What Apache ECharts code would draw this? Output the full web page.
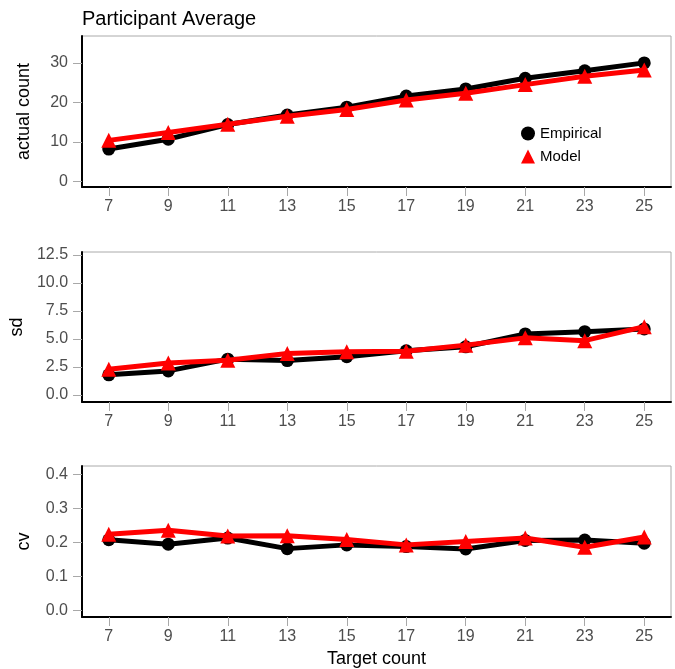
<!DOCTYPE html>
<html>
<head>
<meta charset="utf-8">
<script src="https://cdn.jsdelivr.net/npm/echarts@6/dist/echarts.min.js"></script>
<style>
html,body{margin:0;padding:0;background:#fff;}
#chart{width:675px;height:669px;}
</style>
</head>
<body>
<div id="chart"></div>
<script>
// ---- data ----
const targetCounts = [7, 9, 11, 13, 15, 17, 19, 21, 23, 25];
const xTickLabels = [7, 9, 11, 13, 15, 17, 19, 21, 23, 25];

const countEmpirical = [8.2, 10.7, 14.4, 16.8, 18.8, 21.6, 23.4, 26.1, 28.0, 30.0];
const countModel     = [10.4, 12.4, 14.5, 16.5, 18.2, 20.6, 22.3, 24.5, 26.6, 28.2];

const sdEmpirical = [1.8, 2.15, 3.2, 3.07, 3.42, 3.95, 4.3, 5.45, 5.65, 5.9];
const sdModel     = [2.3, 2.85, 3.1, 3.7, 3.85, 3.9, 4.45, 5.1, 4.85, 6.1];

const cvEmpirical = [0.208, 0.195, 0.213, 0.182, 0.193, 0.188, 0.181, 0.206, 0.207, 0.198];
const cvModel     = [0.224, 0.236, 0.219, 0.220, 0.209, 0.193, 0.203, 0.213, 0.186, 0.216];

const yTicksCount = [0, 10, 20, 30];
const yTicksSd = [0, 2.5, 5, 7.5, 10, 12.5];
const yTicksCv = [0, 0.1, 0.2, 0.3, 0.4];

// ---- helpers ----
const pairs = (ys) => targetCounts.map((x, i) => [x, ys[i]]);
const FONT = '"Liberation Sans", Arial, sans-serif';
const tickColor = '#a8a8a8';
const labelColor = '#4d4d4d';

function xAxis(gridIndex, withName) {
  const ax = {
    type: 'value', gridIndex, min: 6.1, max: 25.9,
    splitLine: {show: false},
    axisLine: {show: true, onZero: false, lineStyle: {color: '#000', width: 2}},
    axisTick: {show: true, length: 9, customValues: xTickLabels, lineStyle: {color: tickColor, width: 1}},
    axisLabel: {customValues: xTickLabels, margin: 12, color: labelColor, fontSize: 16, fontFamily: FONT}
  };
  if (withName) {
    ax.name = 'Target count';
    ax.nameLocation = 'middle';
    ax.nameGap = 33;
    ax.nameTextStyle = {color: '#000', fontSize: 18, fontFamily: FONT};
  }
  return ax;
}
function yAxis(gridIndex, name, min, max, ticks, fmt) {
  return {
    type: 'value', gridIndex, min, max,
    name, nameLocation: 'middle', nameGap: 49,
    nameTextStyle: {color: '#000', fontSize: 18, fontFamily: FONT},
    splitLine: {show: false},
    axisLine: {show: true, onZero: false, lineStyle: {color: '#000', width: 2}},
    axisTick: {show: true, length: 9, customValues: ticks, lineStyle: {color: tickColor, width: 1}},
    axisLabel: {customValues: ticks, margin: 14, color: labelColor, fontSize: 16, fontFamily: FONT,
      formatter: fmt}
  };
}
function series(name, data, idx, isModel) {
  return {
    name, type: 'line', xAxisIndex: idx, yAxisIndex: idx,
    data: pairs(data),
    symbol: isModel ? 'triangle' : 'circle',
    symbolSize: isModel ? 15 : 13,
    showAllSymbol: true,
    lineStyle: {color: isModel ? '#ff0000' : '#000000', width: 5},
    itemStyle: {color: isModel ? '#ff0000' : '#000000'},
    z: isModel ? 3 : 2,
    animation: false,
    emphasis: {disabled: true}
  };
}

const chart = echarts.init(document.getElementById('chart'), null, {renderer: 'canvas'});
const gridBase = {left: 82, right: 4, show: true, borderColor: '#aaaaaa', borderWidth: 1, backgroundColor: '#fff'};
chart.setOption({
  animation: false,
  title: {text: 'Participant Average', left: 77, top: 4,
    textStyle: {color: '#000', fontSize: 20, fontWeight: 'normal', fontFamily: FONT}},
  legend: {
    orient: 'vertical', left: 516, top: 121, itemWidth: 14, itemHeight: 14, itemGap: 8,
    textStyle: {color: '#000', fontSize: 15, fontFamily: FONT},
    data: [{name: 'Empirical', icon: 'circle'}, {name: 'Model', icon: 'triangle'}]
  },
  grid: [
    Object.assign({top: 36, height: 151}, gridBase),
    Object.assign({top: 252, height: 150}, gridBase),
    Object.assign({top: 466, height: 151}, gridBase)
  ],
  xAxis: [xAxis(0, false), xAxis(1, false), xAxis(2, true)],
  yAxis: [
    yAxis(0, 'actual count', -1.4, 36.8, yTicksCount, v => String(v)),
    yAxis(1, 'sd', -0.63, 12.77, yTicksSd, v => v.toFixed(1)),
    yAxis(2, 'cv', -0.0185, 0.4243, yTicksCv, v => v.toFixed(1))
  ],
  series: [
    series('Empirical', countEmpirical, 0, false),
    series('Model', countModel, 0, true),
    series('Empirical', sdEmpirical, 1, false),
    series('Model', sdModel, 1, true),
    series('Empirical', cvEmpirical, 2, false),
    series('Model', cvModel, 2, true)
  ]
});
</script>
</body>
</html>
